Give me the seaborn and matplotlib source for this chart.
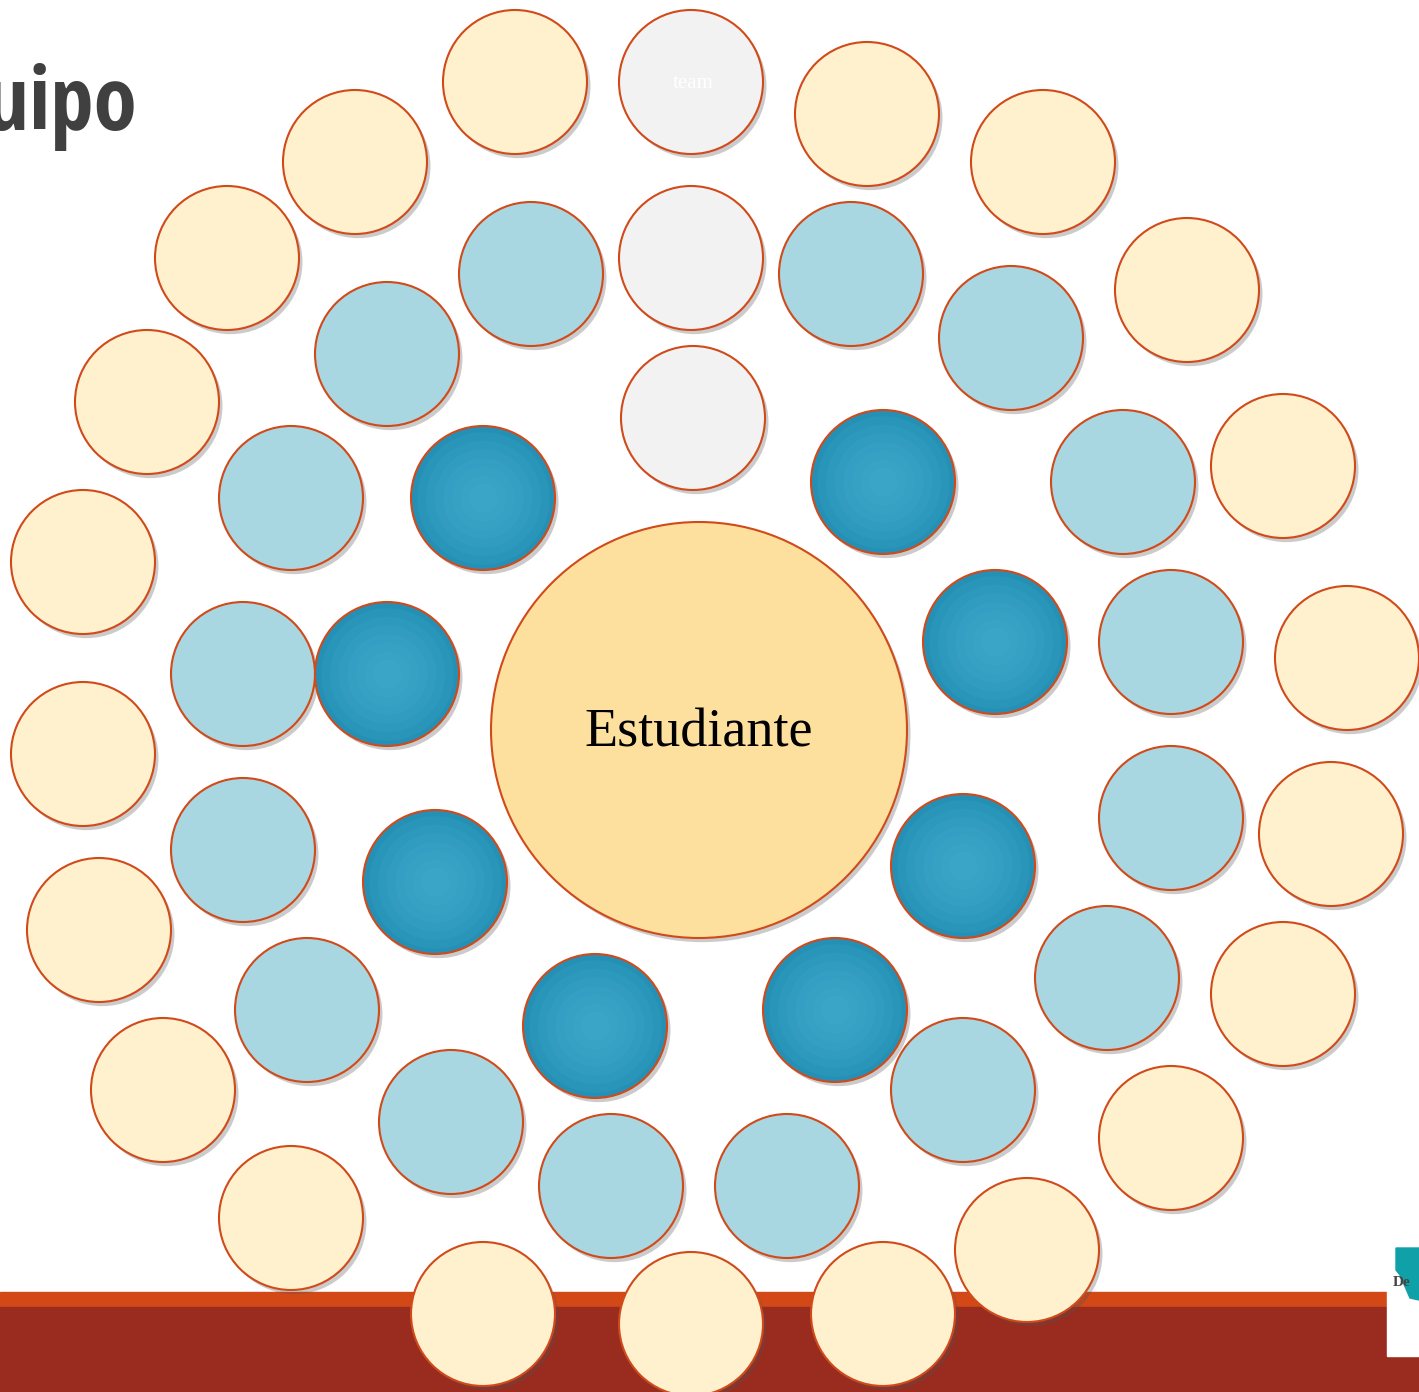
import matplotlib
matplotlib.use("Agg")
import matplotlib.pyplot as plt
import matplotlib.patheffects as pe
import seaborn as sns
import pandas as pd

# circle centres (pixel coordinates)
outer_x = [515, 867, 1043, 1187, 1283, 1347, 1331, 1283, 1171, 1027, 883, 691,
           483, 291, 163, 99, 83, 83, 147, 227, 355]
outer_y = [82, 114, 162, 290, 466, 658, 834, 994, 1138, 1250, 1314, 1324,
           1314, 1218, 1090, 930, 754, 562, 402, 258, 162]

grey_x = [691, 691, 693]
grey_y = [82, 258, 418]

middle_x = [531, 851, 1011, 1123, 1171, 1171, 1107, 963, 787, 611, 451, 307,
            243, 243, 291, 387]
middle_y = [274, 274, 338, 482, 642, 818, 978, 1090, 1186, 1186, 1122, 1010,
            850, 674, 498, 354]

inner_x = [483, 883, 995, 963, 835, 595, 435, 387]
inner_y = [498, 482, 642, 866, 1010, 1026, 882, 674]

center_x = [699]
center_y = [730]

title = "Equipo"
center_label = "Estudiante"
grey_label = "team"

W, H = 1419, 1392
PT = 0.72  # points per pixel at dpi 100

sns.set_style("white")

fig = plt.figure(figsize=(W / 100, H / 100), dpi=100)
ax = fig.add_axes([0, 0, 1, 1])
ax.set_xlim(0, W)
ax.set_ylim(H, 0)
ax.axis("off")

# bottom band
ax.axhspan(1292, 1307, color="#D24817", zorder=0)
ax.axhspan(1307, H, color="#992B1F", zorder=0)

edge = "#D04A1A"
shadow = [pe.SimplePatchShadow(offset=(2.5, -3), shadow_rgbFace="#555555", alpha=0.3),
          pe.Normal()]


def rings(xs, ys, radius, face, z, effects=True, lw=1.5):
    df = pd.DataFrame({"x": xs, "y": ys})
    s = (2 * radius * PT) ** 2
    sc = sns.scatterplot(data=df, x="x", y="y", ax=ax, s=s, color=face,
                         edgecolor=edge, linewidth=lw, zorder=z, legend=False)
    if effects:
        sc.collections[-1].set_path_effects(shadow)
    return sc


rings(outer_x, outer_y, 72, "#FFF0CE", 2)
rings(grey_x, grey_y, 72, "#F2F2F2", 2)
rings(middle_x, middle_y, 72, "#A8D6E1", 2)
rings(inner_x, inner_y, 72, "#2490B5", 2)

# radial highlight on the dark circles
df_in = pd.DataFrame({"x": inner_x, "y": inner_y})
for k, frac in enumerate([0.92, 0.8, 0.68, 0.56, 0.44, 0.32, 0.2]):
    sns.scatterplot(data=df_in, x="x", y="y", ax=ax, s=(2 * 72 * frac * PT) ** 2,
                    color="#48B0D2", linewidth=0, alpha=0.16, zorder=3 + k * 0.01,
                    legend=False)

rings(center_x, center_y, 208, "#FDE09D", 4)

ax.text(center_x[0], 733, center_label, ha="center", va="center",
        fontsize=39, family="Liberation Serif", color="black", zorder=6)
ax.text(grey_x[0] + 2, 84, grey_label, ha="center", va="center",
        fontsize=15, family="Liberation Serif", color="white", zorder=6)

# title, mostly cut off at the left edge
ax.text(137, 130, title, ha="right", va="baseline", fontsize=63,
        family="Open Sans Condensed", fontweight="bold", color="#404040", zorder=6)

# logo corner
ax.add_patch(plt.Rectangle((1387, 1246), 40, 110, color="white", zorder=1))
ax.add_patch(plt.Polygon([(1396, 1248), (1419, 1248), (1419, 1300), (1410, 1298),
                          (1400, 1275), (1396, 1270)], color="#10A0A8", zorder=1.5))
ax.text(1393, 1283, "De", fontsize=11, family="Liberation Serif",
        fontweight="bold", color="#444444", va="center", zorder=1.6)

fig.savefig("out.png", dpi=100)
